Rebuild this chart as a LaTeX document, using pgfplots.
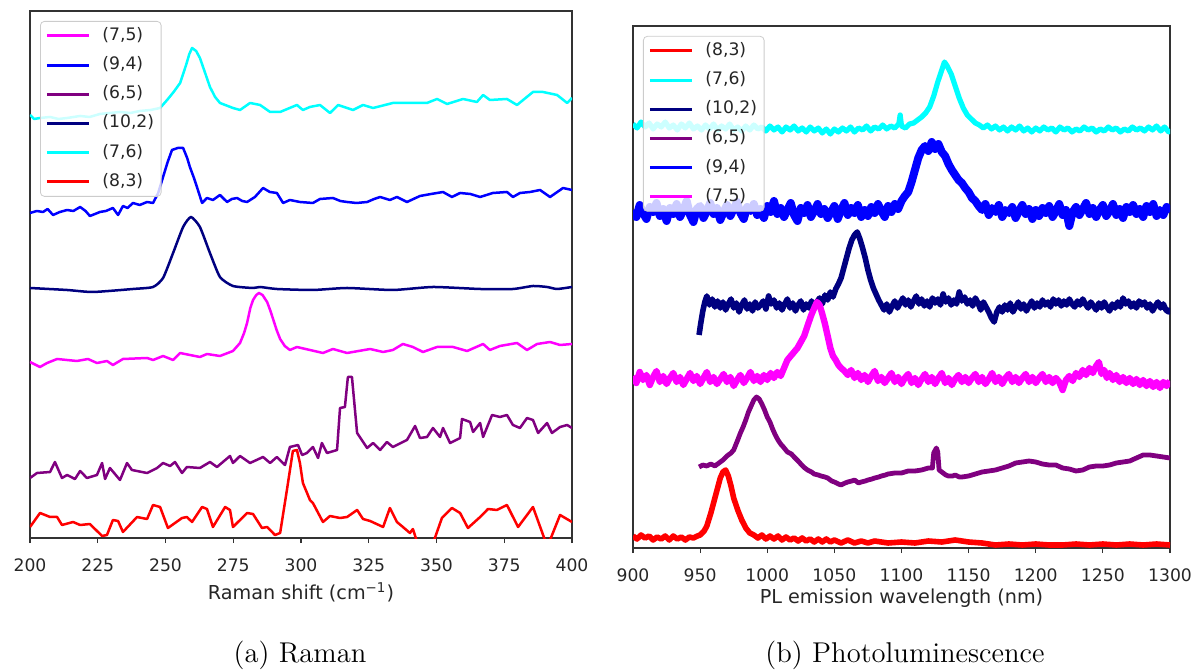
\documentclass[border=0pt]{standalone}
\usepackage{pgfplots}
\pgfplotsset{compat=1.18}
\usepackage{fontspec}
\newfontfamily\dv{DejaVu Sans}
\definecolor{cMag}{rgb}{1,0,1}
\definecolor{cBlue}{rgb}{0,0,1}
\definecolor{cPurp}{rgb}{0.5,0,0.5}
\definecolor{cNavy}{rgb}{0,0,0.5}
\definecolor{cCyan}{rgb}{0,1,1}
\definecolor{cRed}{rgb}{1,0,0}
\pgfplotsset{
  panel/.style={
    scale only axis,
    ymin=0,
    ytick=\empty,
    axis line style={black!80, line width=0.6pt},
    every tick/.style={black!80, line width=0.6pt},
    tick align=outside,
    xtick pos=bottom,
    major tick length=2.6pt,
    /pgf/number format/assume math mode=true,
    /pgf/number format/1000 sep={},
    xticklabel style={font=\dv\fontsize{8.6}{10}\selectfont, text=black!85, anchor=base, yshift=-14pt},
    label style={font=\dv\fontsize{9.6}{11}\selectfont, text=black!85},
    legend cell align=left,
    legend image code/.code={\draw[##1, line width=1.5pt] (0pt,0pt) -- (21pt,0pt);},
    legend style={anchor=north west, draw=black!20, fill=white, fill opacity=0.8,
      text opacity=1, draw opacity=1, rounded corners=2pt,
      inner xsep=2.5pt, inner ysep=2pt, row sep=4.1pt,
      font=\dv\fontsize{8.6}{10}\selectfont, text=black!85,
      nodes={inner sep=1pt, text height=6.5pt, text depth=2pt},
      /tikz/every odd column/.append style={column sep=5pt}},
    every axis plot/.append style={line join=round},
  }
}
\begin{document}
\begin{tikzpicture}
\path[use as bounding box] (0,0) rectangle (597.5pt,335pt);
% ---------------- Raman ----------------
\begin{axis}[panel,
  at={(15pt,66pt)}, anchor=south west,
  width=271pt, height=263.5pt,
  xmin=200, xmax=400, ymax=527,
  xtick={200,225,...,400},
  xlabel={Raman shift (cm\textsuperscript{−1})},
  xlabel style={at={(axis description cs:0.5,-0.1176)}, anchor=base},
  legend style={at={(0.0185,0.981)}},
  every axis plot/.append style={line width=1.25pt},
]
\addplot[cMag] coordinates {
(200,176) (203.7,171) (206.3,175) (210,179) (217.3,177) (221.4,179) (224.7,175) (228.4,177) (230.6,173) (234.3,179) (243.2,180) (245.4,178) (249.1,182) (252.8,178) (255.4,185) (259,183) (262.7,181) (265.3,184) (270.1,182) (274.9,187) (277.5,195) (279,205) (280.1,215) (281.3,230) (282.3,238) (283.5,243) (284.5,245) (285.8,243) (287.5,236) (288.6,228) (289.7,219) (291,208) (292.3,199) (294,192) (295.9,188) (298.5,191) (303.3,188) (308.1,185) (311.8,189) (317,185) (325.5,189) (330.3,186) (333.9,188) (337.6,194) (341.3,191) (345,186) (350.2,191) (356.1,191) (361.3,187) (367.2,194) (369.7,188) (373.4,192) (379.7,195) (383.4,188) (387.1,194) (391.9,196) (395.6,193) (400,194)};
\addlegendentry{(7,5)}
\addplot[cBlue] coordinates {
(200,325) (202.5,327) (204.8,326) (206.5,329) (208.5,323) (211,326) (213.7,328) (216,327) (218.5,331) (220.5,327) (222.1,322) (224,324) (225.8,326) (228,327) (230.6,330) (232.5,323) (234.3,332) (236,330) (238,335) (240.5,333) (243.2,336) (245.4,335) (247.3,345) (249.1,361) (250.8,376) (252.4,388) (254.5,390) (256.5,390) (258,380) (259,371) (260.5,360) (261.6,351) (263.5,335) (265.3,340) (267.5,338) (270.1,343) (272.7,336) (274.5,339) (276.4,340) (278.3,337) (280.1,336) (283,341) (286,350) (288.5,346) (291.1,345) (293.4,335) (295.9,338) (299.6,336) (304.4,335) (307,339) (311.8,340) (314.5,337) (317,336) (320.5,335) (324.4,336) (327,339) (329.2,341) (332.8,338) (335.4,341) (339.1,336) (343.9,342) (348,344) (352.4,346) (355.7,341) (358.7,345) (362.5,344) (366.1,341) (370.8,345) (376,346) (378.2,341) (380.8,345) (384.5,346) (388.2,348) (391.9,341) (396.7,350) (400,348)};
\addlegendentry{(9,4)}
\addplot[cPurp] coordinates {
(200,60) (202.6,65) (207.4,66) (209.2,76) (211.8,60) (213.7,63) (216.6,59) (218.5,67) (221,60) (224.7,63) (226.6,75) (227.7,59) (229.5,70) (233.2,58) (235.8,75) (237.6,68) (243.2,65) (246.9,70) (249.1,75) (251.7,72) (253.5,76) (256.1,65) (257.9,71) (262.7,70) (266.4,76) (269,71) (273.8,82) (274.9,75) (277.5,82) (281.2,75) (286,81) (288.6,75) (291.1,81) (294.1,73) (295.9,91) (298.9,93) (300.4,83) (302.2,85) (304.4,91) (306.3,80) (307.7,95) (309.6,85) (313.3,88) (314.4,130) (316.2,131) (317.3,161) (318.8,161) (320.7,105) (324.4,90) (326.6,95) (329.2,88) (331.7,96) (333.9,91) (339.1,98) (342.1,112) (343.9,100) (346.5,101) (348.7,110) (351.3,101) (352.4,110) (355,95) (358.7,100) (359.4,119) (362.4,116) (363.5,106) (366.1,115) (367.2,101) (370.5,123) (373.4,121) (376,123) (378.2,113) (380.8,110) (383.4,120) (385.6,118) (387.5,105) (390.8,115) (392.6,105) (395.6,111) (398.2,113) (400,110)};
\addlegendentry{(6,5)}
\addplot[cNavy, smooth, tension=0.35] coordinates {
(200,250) (213.7,248) (223.2,246) (238,249) (245.4,251) (249.1,260) (252.8,285) (256.5,311) (259.4,321) (262.7,311) (266.4,285) (270.1,261) (274.9,252) (282.3,250) (284.9,251) (291.1,249) (304.4,248) (317,250) (333.9,248) (348.7,251) (366.1,249) (378.2,249) (385.6,252) (390.8,251) (394.5,249) (400,251)};
\addlegendentry{(10,2)}
\addplot[cCyan] coordinates {
(200,423) (201.5,419) (203.7,420) (207.4,421) (210.5,419) (213.7,420) (218.5,422) (222,421) (225.8,424) (229.5,425) (233.2,426) (237,425) (240.6,427) (244.5,428) (248,430) (250.6,438) (253,446) (255.4,455) (257.6,473) (258.8,484) (259.8,490) (261.3,487) (262.7,480) (264.5,466) (266.4,451) (268.3,441) (270.1,435) (274.9,430) (277.5,428) (281.2,435) (284.9,433) (288.6,426) (292.3,426) (298.5,433) (300.7,428) (303.3,431) (307,433) (310.7,425) (313.7,433) (319.2,428) (322.9,433) (326.6,430) (333.9,435) (346.5,435) (350.2,439) (353.9,434) (359.8,439) (364.9,436) (367.2,443) (369.7,438) (376,439) (379.7,433) (385.6,446) (389.3,446) (394.5,443) (398.2,435) (400,440)};
\addlegendentry{(7,6)}
\addplot[cRed] coordinates {
(200,11) (203.7,25) (207.4,21) (210,21) (211.8,13) (215.9,16) (218.5,13) (222.1,14) (226.6,2) (228.4,3) (230.6,18) (232.5,17) (234.3,6) (239.5,21) (243.2,19) (245.4,33) (248,31) (250.9,10) (256.1,20) (257.9,21) (259.8,16) (263.5,31) (265.3,29) (267.5,11) (272,31) (273.8,28) (274.9,11) (280.1,25) (282.3,24) (285.6,10) (287.5,11) (290.4,3) (292.3,5) (294.8,48) (297,87) (298.5,88) (299.6,75) (300.7,55) (303.3,38) (304.4,35) (308.1,16) (310.7,22) (314.4,20) (317,21) (320.7,28) (322.9,19) (325.5,17) (330.3,11) (332.8,30) (335.4,16) (337.6,11) (340.2,5) (341.3,9) (343.2,-7) (347.6,-12) (349.4,0) (352,20) (355.7,30) (358.7,25) (361.6,10) (366.1,21) (369,29) (372.3,28) (376,33) (380.1,11) (385.6,31) (390,-2) (391.9,-2) (395.6,23) (400,16)};
\addlegendentry{(8,3)}
\end{axis}
% ---------------- PL ----------------
\begin{axis}[panel,
  at={(316.5pt,61pt)}, anchor=south west,
  width=268.5pt, height=261pt,
  xmin=900, xmax=1300, ymax=522,
  xtick={900,950,...,1300},
  xlabel={PL emission wavelength (nm)},
  xlabel style={at={(axis description cs:0.5,-0.1054)}, anchor=base},
  legend style={at={(0.0186,0.981)}},
]
\addplot[cRed, line width=2.8pt] coordinates {
(900,12) (903,9) (906,13) (909,10) (912,12) (915,8) (918,11) (921,9) (924,12) (927,8) (930,12) (933,9) (936,11) (939,8) (942,11) (945,10) (948,12) (950,13) (953,17) (955,22) (958,35) (961,50) (963,60) (965,70) (967,76) (969,78) (971,72) (973,62) (975,50) (978,38) (981,28) (984,20) (987,15) (990,13) (993,10) (996,13) (999,9) (1002,12) (1005,9) (1008,12) (1011,8) (1014,11) (1017,8) (1020,10) (1023,7) (1026,10) (1029,7) (1032,9) (1035,6) (1038,9) (1041,6) (1044,9) (1047,6) (1050,8) (1055,5) (1060,8) (1065,5) (1070,7) (1075,5) (1080,7) (1090,5) (1100,6) (1110,5) (1120,7) (1130,6) (1140,8) (1150,6) (1160,5) (1170,3) (1180,4) (1190,3) (1200,4) (1210,3) (1220,3) (1230,4) (1240,3) (1250,4) (1260,3) (1270,4) (1280,3) (1290,4) (1300,3)};
\addlegendentry{(8,3)}
\addplot[cCyan, line width=2.6pt] coordinates {
(900,424) (903,420) (906,426) (909,421) (912,425) (915,419) (918,424) (921,421) (924,426) (927,420) (930,423) (933,418) (936,424) (939,420) (942,425) (945,419) (948,422) (951,418) (954,423) (957,419) (960,424) (963,418) (966,422) (969,419) (972,424) (975,418) (978,421) (981,417) (984,422) (987,418) (990,423) (993,419) (996,421) (999,417) (1002,422) (1005,418) (1008,421) (1011,416) (1014,421) (1017,418) (1020,422) (1023,417) (1026,420) (1029,416) (1032,421) (1035,417) (1038,420) (1041,415) (1044,419) (1047,414) (1050,419) (1053,416) (1056,420) (1059,417) (1062,421) (1065,416) (1068,420) (1071,418) (1074,422) (1077,417) (1080,421) (1083,419) (1086,423) (1089,419) (1092,422) (1095,420) (1098,424) (1099,433) (1100,422) (1103,420) (1106,424) (1109,425) (1112,428) (1115,431) (1118,435) (1121,441) (1124,452) (1127,466) (1130,478) (1132,486) (1134,482) (1137,474) (1140,462) (1143,450) (1146,440) (1149,433) (1152,429) (1155,425) (1158,423) (1161,420) (1164,423) (1167,419) (1170,422) (1173,418) (1176,421) (1179,417) (1182,421) (1185,418) (1188,422) (1191,417) (1194,420) (1197,416) (1200,420) (1203,417) (1206,421) (1209,418) (1212,420) (1215,416) (1218,421) (1221,418) (1224,420) (1227,416) (1230,419) (1233,417) (1236,421) (1239,418) (1242,420) (1245,416) (1248,419) (1251,417) (1254,421) (1257,418) (1260,420) (1263,416) (1266,419) (1269,417) (1272,421) (1275,418) (1278,420) (1281,417) (1284,421) (1287,418) (1290,422) (1293,417) (1296,421) (1299,416) (1300,419)};
\addlegendentry{(7,6)}
\addplot[cNavy, line width=2.8pt] coordinates {
(949.2,213) (950.5,225) (952,237) (953.5,246) (955,252) (957,243) (959,249) (961,241) (963,247) (965,240) (967,246) (969,238) (971,244) (973,249) (975,240) (977,245) (979,236) (981,243) (983,248) (985,239) (987,244) (989,237) (991,246) (993,240) (995,243) (997,247) (999,239) (1001,252) (1003,244) (1005,248) (1007,240) (1009,245) (1011,238) (1013,244) (1015,249) (1017,240) (1019,245) (1021,237) (1023,243) (1025,247) (1027,238) (1029,244) (1031,240) (1033,247) (1035,241) (1037,246) (1039,250) (1041,244) (1043,253) (1045,248) (1047,256) (1049,251) (1051,259) (1053,264) (1055,270) (1057,280) (1059,290) (1061,300) (1063,308) (1065,313) (1067,316) (1069,309) (1071,300) (1073,290) (1075,278) (1077,268) (1079,260) (1081,254) (1083,248) (1085,243) (1087,238) (1089,244) (1091,236) (1093,242) (1095,247) (1097,240) (1099,245) (1101,250) (1103,243) (1105,248) (1107,241) (1109,247) (1111,252) (1113,244) (1115,249) (1117,242) (1119,247) (1121,241) (1123,250) (1125,245) (1127,249) (1129,243) (1131,254) (1133,246) (1135,250) (1137,243) (1139,248) (1141,244) (1143,256) (1145,247) (1147,251) (1149,244) (1151,248) (1153,242) (1155,250) (1157,245) (1159,238) (1161,246) (1163,241) (1165,236) (1167,230) (1169,226) (1171,236) (1173,241) (1175,236) (1177,243) (1179,238) (1181,245) (1183,236) (1185,241) (1187,246) (1189,239) (1191,244) (1193,237) (1195,242) (1197,247) (1199,240) (1201,245) (1203,241) (1205,248) (1207,243) (1209,246) (1211,241) (1213,249) (1215,244) (1217,248) (1219,242) (1221,247) (1223,243) (1225,249) (1227,244) (1229,241) (1231,247) (1233,243) (1235,249) (1237,244) (1239,240) (1241,246) (1243,242) (1245,238) (1247,245) (1249,240) (1251,246) (1253,241) (1255,237) (1257,244) (1259,240) (1261,246) (1263,241) (1265,250) (1267,244) (1269,247) (1271,241) (1273,245) (1275,240) (1277,247) (1279,243) (1281,246) (1283,240) (1285,244) (1287,237) (1289,242) (1291,246) (1293,240) (1295,244) (1297,238) (1299,236) (1300,240)};
\addlegendentry{(10,2)}
\addplot[cPurp, line width=2.4pt] coordinates {
(949.2,81) (952,83) (955,82) (958,84) (961,82) (964,85) (967,88) (970,92) (973,95) (975,98) (978,108) (980,115) (982,121) (984,128) (986,136) (988,142) (990,148) (992,151) (994,149) (996,144) (998,138) (1000,131) (1002,126) (1004,119) (1006,113) (1008,108) (1010,104) (1012,101) (1015,96) (1018,94) (1020,91) (1023,87) (1025,84) (1028,80) (1030,78) (1033,76) (1035,74) (1038,73) (1040,72) (1043,71) (1045,70) (1048,67) (1050,66) (1053,64) (1055,63) (1058,65) (1060,66) (1063,67) (1065,68) (1068,65) (1070,66) (1073,67) (1075,68) (1078,69) (1080,70) (1083,71) (1085,72) (1088,73) (1090,74) (1095,75) (1100,75) (1105,77) (1110,77) (1115,78) (1120,80) (1123,80) (1124,95) (1126,100) (1127,96) (1128,78) (1130,76) (1133,73) (1135,72) (1138,72) (1140,73) (1143,71) (1145,71) (1150,72) (1155,74) (1160,76) (1165,77) (1170,78) (1175,80) (1180,82) (1185,85) (1190,86) (1195,87) (1200,86) (1205,84) (1210,83) (1215,83) (1220,80) (1225,79) (1230,77) (1235,78) (1240,81) (1245,82) (1250,82) (1255,83) (1260,85) (1265,86) (1270,87) (1275,90) (1280,93) (1285,93) (1290,92) (1295,91) (1300,90)};
\addlegendentry{(6,5)}
\addplot[cBlue, line width=4pt] coordinates {
(900,338) (902.5,331) (905,343) (907.5,335) (910,329) (912.5,341) (915,336) (917.5,345) (920,332) (922.5,339) (925,327) (927.5,340) (930,334) (932.5,344) (935,331) (937.5,338) (940,347) (942.5,333) (945,326) (947.5,339) (950,342) (952.5,330) (955,337) (957.5,345) (960,334) (962.5,340) (965,328) (967.5,336) (970,343) (972.5,332) (975,339) (977.5,346) (980,335) (982.5,329) (985,341) (987.5,337) (990,344) (992.5,333) (995,339) (997.5,330) (1000,342) (1002.5,336) (1005,347) (1007.5,334) (1010,340) (1012.5,331) (1015,338) (1017.5,345) (1020,333) (1022.5,327) (1025,340) (1027.5,335) (1030,343) (1032.5,331) (1035,337) (1037.5,344) (1040,334) (1042.5,339) (1045,330) (1047.5,336) (1050,342) (1052.5,329) (1055,338) (1057.5,345) (1060,333) (1062.5,340) (1065,335) (1067.5,343) (1070,331) (1072.5,338) (1075,332) (1077.5,341) (1080,335) (1082.5,344) (1085,337) (1087.5,331) (1090,342) (1092.5,336) (1095,344) (1097.5,339) (1100,347) (1102.5,352) (1105,356) (1107.5,366) (1110,378) (1112.5,390) (1115,398) (1117.5,402) (1120,397) (1122.5,406) (1125,399) (1127.5,404) (1130,396) (1132.5,392) (1135,384) (1137.5,378) (1140,373) (1142.5,368) (1145,365) (1147.5,360) (1150,356) (1152.5,350) (1155,347) (1157.5,342) (1160,338) (1162.5,344) (1165,333) (1167.5,340) (1170,336) (1172.5,343) (1175,331) (1177.5,338) (1180,335) (1182.5,341) (1185,330) (1187.5,337) (1190,343) (1192.5,334) (1195,339) (1197.5,329) (1200,338) (1202.5,332) (1205,340) (1207.5,335) (1210,342) (1212.5,331) (1215,337) (1217.5,344) (1220,333) (1222.5,338) (1225,322) (1227.5,336) (1230,341) (1232.5,333) (1235,339) (1237.5,345) (1240,334) (1242.5,340) (1245,331) (1247.5,338) (1250,343) (1252.5,332) (1255,337) (1257.5,344) (1260,333) (1262.5,339) (1265,330) (1267.5,341) (1270,336) (1272.5,343) (1275,334) (1277.5,339) (1280,331) (1282.5,342) (1285,336) (1287.5,344) (1290,332) (1292.5,338) (1295,333) (1297.5,341) (1300,336)};
\addlegendentry{(9,4)}
\addplot[cMag, line width=3.2pt] coordinates {
(900,172) (902.5,165) (905,176) (907.5,168) (910,173) (912.5,163) (915,171) (917.5,177) (920,166) (922.5,172) (925,164) (927.5,170) (930,175) (932.5,166) (935,171) (937.5,163) (940,169) (942.5,175) (945,167) (947.5,172) (950,164) (952.5,170) (955,176) (957.5,166) (960,171) (962.5,164) (965,169) (967.5,174) (970,166) (972.5,171) (975,162) (977.5,168) (980,173) (982.5,165) (985,170) (987.5,176) (990,167) (992.5,172) (995,166) (997.5,173) (1000,168) (1002.5,175) (1005,170) (1007.5,176) (1010,172) (1012.5,180) (1015,188) (1017.5,192) (1020,196) (1022.5,200) (1025,206) (1027.5,212) (1030,222) (1032.5,232) (1035,240) (1037,246) (1039,243) (1041,234) (1043,224) (1045,212) (1047,200) (1049,192) (1051,188) (1053,183) (1055,180) (1057.5,177) (1060,173) (1062.5,178) (1065,170) (1067.5,175) (1070,168) (1072.5,173) (1075,166) (1077.5,172) (1080,177) (1082.5,167) (1085,171) (1087.5,165) (1090,170) (1092.5,175) (1095,166) (1097.5,171) (1100,164) (1102.5,170) (1105,174) (1107.5,165) (1110,170) (1112.5,163) (1115,169) (1117.5,174) (1120,166) (1122.5,171) (1125,164) (1127.5,170) (1130,175) (1132.5,165) (1135,170) (1137.5,163) (1140,169) (1142.5,173) (1145,166) (1147.5,171) (1150,165) (1152.5,170) (1155,174) (1157.5,166) (1160,171) (1162.5,164) (1165,169) (1167.5,175) (1170,166) (1172.5,171) (1175,164) (1177.5,170) (1180,174) (1182.5,166) (1185,171) (1187.5,165) (1190,170) (1192.5,174) (1195,166) (1197.5,171) (1200,165) (1202.5,170) (1205,174) (1207.5,166) (1210,171) (1212.5,165) (1215,170) (1217.5,166) (1220,158) (1222.5,168) (1225,172) (1227.5,167) (1230,175) (1232.5,171) (1235,178) (1237.5,173) (1240,180) (1242.5,175) (1245,182) (1247,186) (1249,174) (1251,178) (1253,170) (1255,175) (1257.5,168) (1260,173) (1262.5,166) (1265,171) (1267.5,165) (1270,170) (1272.5,164) (1275,169) (1277.5,163) (1280,168) (1282.5,162) (1285,167) (1287.5,161) (1290,166) (1292.5,160) (1295,166) (1297.5,162) (1300,167)};
\addlegendentry{(7,5)}
\end{axis}
\node[anchor=base, font=\fontsize{14.3}{17}\selectfont] at (150pt,4pt) {(a) Raman};
\node[anchor=base, font=\fontsize{14.3}{17}\selectfont] at (452.5pt,4pt) {(b) Photoluminescence};
\end{tikzpicture}
\end{document}
